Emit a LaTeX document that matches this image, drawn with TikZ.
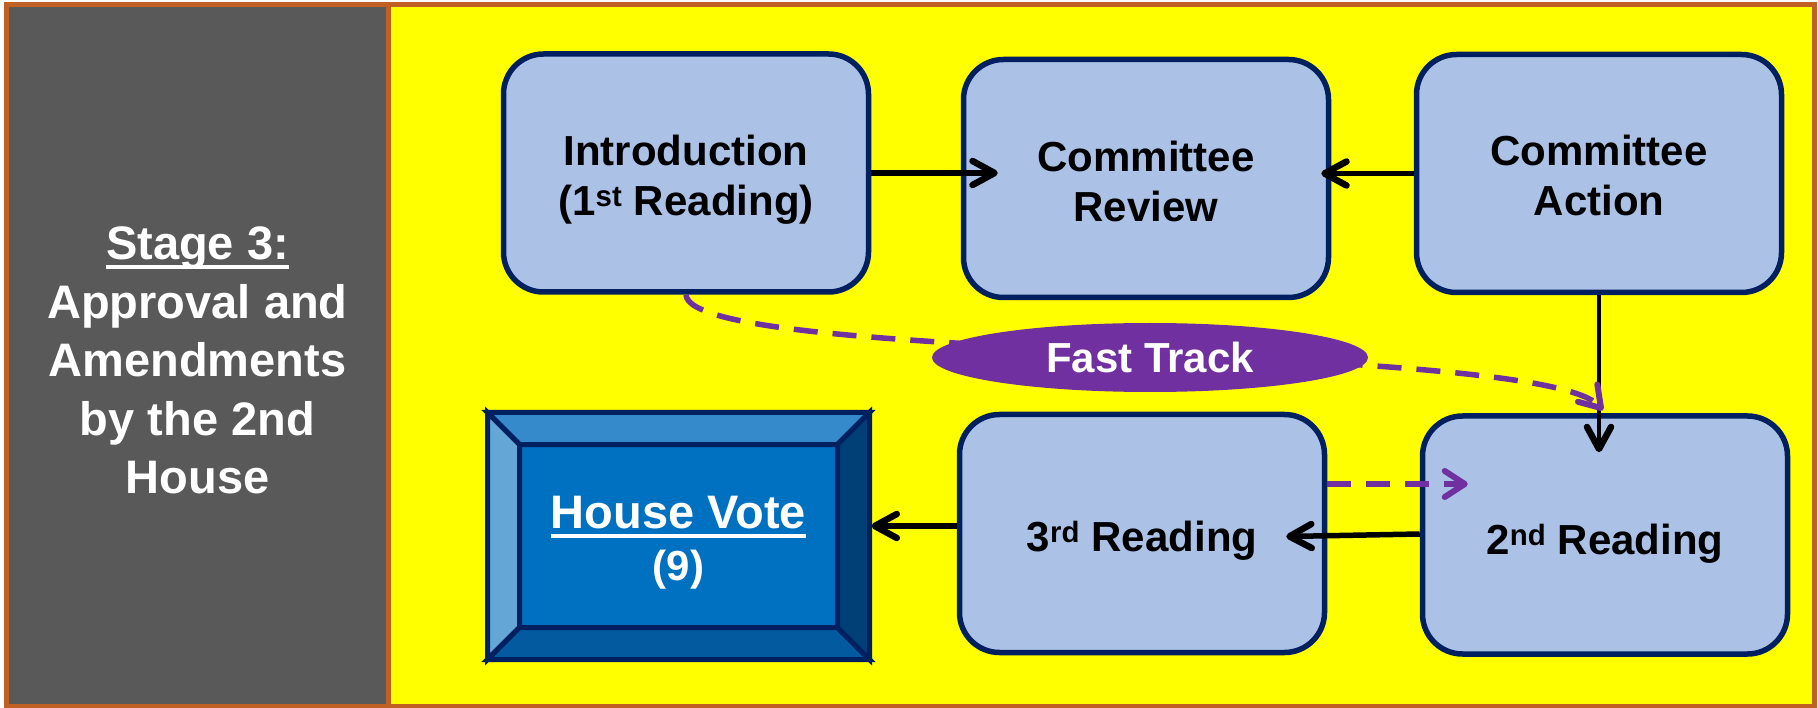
\documentclass[tikz,border=0pt]{standalone}
\usepackage{fontspec}
\setmainfont{Liberation Sans}
\usetikzlibrary{arrows.meta,calc,shapes.geometric}

\definecolor{frameorange}{RGB}{193,96,36}
\definecolor{panelgray}{RGB}{89,89,89}
\definecolor{boardyellow}{RGB}{255,255,0}
\definecolor{navy}{RGB}{0,32,96}
\definecolor{boxblue}{RGB}{171,193,230}
\definecolor{ftpurple}{RGB}{112,48,160}
\definecolor{voteblue}{RGB}{0,112,192}
\definecolor{bevtop}{RGB}{53,138,203}
\definecolor{bevleft}{RGB}{100,166,214}
\definecolor{bevbottom}{RGB}{3,90,158}
\definecolor{bevright}{RGB}{0,64,116}

% underline at a fixed depth below the baseline, crossing descenders
\newsavebox\ulbox
\newcommand\myul[1]{\sbox\ulbox{#1}\rlap{\rule[-9pt]{\wd\ulbox}{4pt}}\usebox\ulbox}
% invisible strut that pushes a label down inside its box
\newcommand\lift[1]{\rule{0pt}{#1}}

\tikzset{
  stepbox/.style={draw=navy, line width=5.5pt, fill=boxblue, rounded corners=40pt,
    minimum width=365pt, minimum height=238pt, inner sep=0pt, align=center,
    font=\fontsize{42}{50}\selectfont\bfseries},
  conn/.style={draw=black, line width=5.5pt,
    -{Straight Barb[length=22pt,width=24pt,line width=6.5pt,round]}},
  fast/.style={draw=ftpurple, line width=5.5pt, dash pattern=on 24pt off 15pt,
    -{Straight Barb[length=20pt,width=26pt,line width=6pt,round]}},
  bevel/.style={draw=navy, line width=5pt, line join=miter}
}

\begin{document}
\begin{tikzpicture}[x=1pt,y=-1pt]
\useasboundingbox (0,0) rectangle (1818,708);

% yellow board
\filldraw[fill=boardyellow, draw=frameorange, line width=5pt] (388.5,5) rectangle (1814,706.5);

% stage panel with title
\node[draw=frameorange, fill=panelgray, line width=5pt, minimum width=382pt,
  minimum height=701.5pt, inner sep=0pt, text=white, align=center,
  font=\fontsize{47}{58.5}\selectfont\bfseries] (stage) at (197.5,355.75)
  {\lift{42pt}\myul{Stage 3:}\\Approval and\\Amendments\\by the 2nd\\House};

% process steps
\node[stepbox] (intro)  at (686,173)    {\lift{43pt}Introduction\\(1\textsuperscript{st} Reading)};
\node[stepbox] (review) at (1146,178.5) {\lift{36pt}Committee\\Review};
\node[stepbox] (action) at (1599,173.5) {\lift{34pt}Committee\\Action};
\node[stepbox] (third)  at (1142,533.5) {\lift{44pt}3\textsuperscript{rd} Reading};
\node[stepbox] (second) at (1605,535)   {\lift{47pt}2\textsuperscript{nd} Reading};

% house vote button
\node[draw=navy, fill=voteblue, line width=5pt, outer sep=0pt, minimum width=382pt,
  minimum height=247pt, inner sep=0pt, align=center, text=white,
  font=\fontsize{47}{52}\selectfont\bfseries] (vote) at (678.5,536)
  {\lift{46pt}\myul{House Vote}\\{\fontsize{42}{52}\selectfont(9)}};
\coordinate (vnw) at ($(vote.north west)+(32,32)$);
\coordinate (vne) at ($(vote.north east)+(-32,32)$);
\coordinate (vse) at ($(vote.south east)+(-32,-32)$);
\coordinate (vsw) at ($(vote.south west)+(32,-32)$);
\filldraw[bevel, fill=bevtop]    (vote.north west) -- (vote.north east) -- (vne) -- (vnw) -- cycle;
\filldraw[bevel, fill=bevleft]   (vote.north west) -- (vnw) -- (vsw) -- (vote.south west) -- cycle;
\filldraw[bevel, fill=bevbottom] (vote.south west) -- (vsw) -- (vse) -- (vote.south east) -- cycle;
\filldraw[bevel, fill=bevright]  (vote.north east) -- (vote.south east) -- (vse) -- (vne) -- cycle;

% connectors
\draw[conn] (intro.east) -- ($(intro.east -| review.west)+(37,0)$);
\draw[conn] (action.west) -- ($(action.west -| review.east)+(-10,0)$);
\draw[conn, line width=4.5pt] (action.south) -- ($(action.south |- second.north)+(0,39)$);
\draw[conn] ($(second.west)+(0,-1)$) -- ($(third.east)+(-41,3)$);
\coordinate (hv) at ($(third.west)+(0,-7.5)$);
\draw[conn] (hv) -- ($(hv -| vote.east)+(2,0)$);

% fast track paths
\draw[fast] (intro.south) .. controls (690,365) and (1540,340) .. ($(second.north)+(-2,-3)$);
\coordinate (fd) at ($(third.east)+(0,-49.5)$);
\draw[fast] (fd) -- ($(fd -| second.west)+(48,0)$);

\node[ellipse, fill=ftpurple, minimum width=436pt, minimum height=69pt, inner sep=0pt,
  text=white, font=\fontsize{42}{50}\selectfont\bfseries] (ft) at (1150,357.5) {Fast Track};
\end{tikzpicture}
\end{document}
